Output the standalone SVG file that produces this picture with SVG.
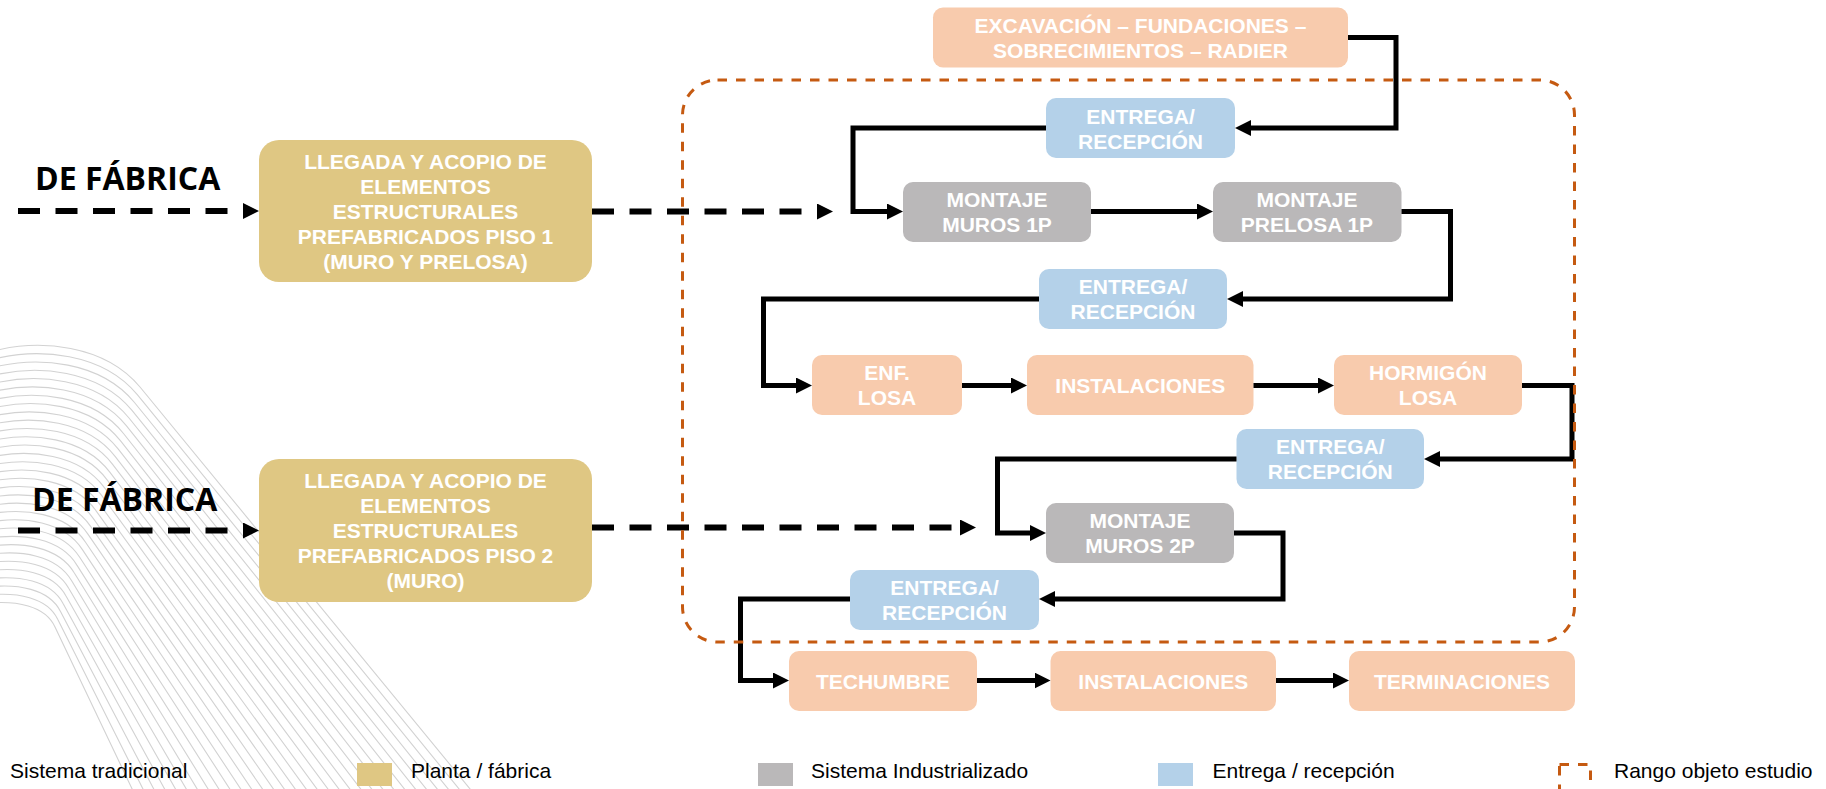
<svg xmlns="http://www.w3.org/2000/svg" width="1826" height="789" viewBox="0 0 1826 789">
  <style>
    .node text{font-family:"Liberation Sans",Arial,sans-serif;font-weight:bold;font-size:21px;fill:#fff;text-anchor:middle}
    .peach{fill:#F8CBAD}
    .gold{fill:#DFC783}
    .blue{fill:#B4D1E9}
    .gray{fill:#BAB8B9}
    .conn{fill:none;stroke:#000;stroke-width:5;stroke-linejoin:miter;marker-end:url(#arr)}
    .dash{fill:none;stroke:#000;stroke-width:6;stroke-dasharray:22 15.5;marker-end:url(#darr)}
    .range{fill:none;stroke:#C55A11;stroke-width:3;stroke-dasharray:9.5 9}
    .legend text{font-family:"Liberation Sans",Arial,sans-serif;font-size:21px;fill:#000}
    .deco path{fill:none;stroke:#d2d2d2;stroke-width:1.1}
    .title{font-family:"Open Sans","DejaVu Sans",sans-serif;font-weight:bold;font-size:32px;fill:#000}
  </style>
  <defs>
    <marker id="arr" viewBox="0 0 16 16" refX="4" refY="8" markerWidth="16" markerHeight="16" markerUnits="userSpaceOnUse" orient="auto">
      <path d="M0,0 L16,8 L0,16 z" fill="#000"/>
    </marker>
    <marker id="darr" viewBox="0 0 16 16" refX="0" refY="8" markerWidth="16" markerHeight="16" markerUnits="userSpaceOnUse" orient="auto">
      <path d="M0,0 L16,8 L0,16 z" fill="#000"/>
    </marker>
  </defs>
  <rect width="1826" height="789" fill="#fff"/>

  <!-- decorative wave of thin lines, lower left -->
  <g id="backdrop" class="deco">
    <path d="M-10,352 C40,338 105,345 140,387 L475,795"/>
    <path d="M-10,360.1 C39.2,346.5 103.1,353.4 137.3,394.7 L464,795"/>
    <path d="M-10,368.2 C38.4,355 101.1,361.8 134.5,402.5 L453.1,795"/>
    <path d="M-10,376.3 C37.6,363.5 99.2,370.2 131.8,410.2 L442.1,795"/>
    <path d="M-10,384.4 C36.8,371.9 97.3,378.5 129,418 L431.1,795"/>
    <path d="M-10,392.5 C36,380.4 95.3,386.9 126.3,425.7 L420.2,795"/>
    <path d="M-10,400.6 C35.2,388.9 93.4,395.3 123.5,433.5 L409.2,795"/>
    <path d="M-10,408.7 C34.4,397.4 91.5,403.7 120.8,441.2 L398.2,795"/>
    <path d="M-10,416.8 C33.6,405.9 89.5,412.1 118.1,448.9 L387.3,795"/>
    <path d="M-10,424.9 C32.7,414.4 87.6,420.5 115.3,456.7 L376.3,795"/>
    <path d="M-10,433 C31.9,422.8 85.7,428.9 112.6,464.4 L365.3,795"/>
    <path d="M-10,441.1 C31.1,431.3 83.7,437.3 109.8,472.2 L354.4,795"/>
    <path d="M-10,449.2 C30.3,439.8 81.8,445.6 107.1,479.9 L343.4,795"/>
    <path d="M-10,457.3 C29.5,448.3 79.8,454 104.4,487.6 L332.4,795"/>
    <path d="M-10,465.4 C28.7,456.8 77.9,462.4 101.6,495.4 L321.4,795"/>
    <path d="M-10,473.5 C27.9,465.3 76,470.8 98.9,503.1 L310.5,795"/>
    <path d="M-10,481.6 C27.1,473.7 74,479.2 96.1,510.9 L299.5,795"/>
    <path d="M-10,489.6 C26.3,482.2 72.1,487.6 93.4,518.6 L288.5,795"/>
    <path d="M-10,497.7 C25.5,490.7 70.2,496 90.6,526.4 L277.6,795"/>
    <path d="M-10,505.8 C24.7,499.2 68.2,504.4 87.9,534.1 L266.6,795"/>
    <path d="M-10,513.9 C23.9,507.7 66.3,512.7 85.2,541.8 L255.6,795"/>
    <path d="M-10,522 C23.1,516.2 64.4,521.1 82.4,549.6 L244.7,795"/>
    <path d="M-10,530.1 C22.3,524.6 62.4,529.5 79.7,557.3 L233.7,795"/>
    <path d="M-10,538.2 C21.5,533.1 60.5,537.9 76.9,565.1 L222.7,795"/>
    <path d="M-10,546.3 C20.7,541.6 58.6,546.3 74.2,572.8 L211.8,795"/>
    <path d="M-10,554.4 C19.9,550.1 56.6,554.7 71.5,580.6 L200.8,795"/>
    <path d="M-10,562.5 C19,558.6 54.7,563.1 68.7,588.3 L189.8,795"/>
    <path d="M-10,570.6 C18.2,567.1 52.8,571.4 66,596 L178.9,795"/>
    <path d="M-10,578.7 C17.4,575.6 50.8,579.8 63.2,603.8 L167.9,795"/>
    <path d="M-10,586.8 C16.6,584 48.9,588.2 60.5,611.5 L156.9,795"/>
    <path d="M-10,594.9 C15.8,592.5 47,596.6 57.7,619.3 L146,795"/>
    <path d="M-10,603 C15,601 45,605 55,627 L135,795"/>
  </g>

  <!-- side headings -->
  <g id="heading-1"><text class="title" x="35" y="190">DE FÁBRICA</text></g>
  <g id="heading-2"><text class="title" x="32" y="511">DE FÁBRICA</text></g>

  <!-- process nodes -->
  <g id="llegada-1" class="node">
    <rect class="gold" x="259" y="140" width="333" height="142" rx="20"/>
    <text x="425.5" y="168.5">LLEGADA Y ACOPIO DE</text>
    <text x="425.5" y="193.5">ELEMENTOS</text>
    <text x="425.5" y="218.5">ESTRUCTURALES</text>
    <text x="425.5" y="243.5">PREFABRICADOS PISO 1</text>
    <text x="425.5" y="268.5">(MURO Y PRELOSA)</text>
  </g>
  <g id="llegada-2" class="node">
    <rect class="gold" x="259" y="459" width="333" height="143" rx="20"/>
    <text x="425.5" y="487.5">LLEGADA Y ACOPIO DE</text>
    <text x="425.5" y="512.5">ELEMENTOS</text>
    <text x="425.5" y="537.5">ESTRUCTURALES</text>
    <text x="425.5" y="562.5">PREFABRICADOS PISO 2</text>
    <text x="425.5" y="587.5">(MURO)</text>
  </g>
  <g id="excavacion" class="node">
    <rect class="peach" x="933" y="7.5" width="415" height="60" rx="10"/>
    <text x="1140.5" y="32.5">EXCAVACIÓN – FUNDACIONES –</text>
    <text x="1140.5" y="57.5">SOBRECIMIENTOS – RADIER</text>
  </g>
  <g id="entrega-1" class="node">
    <rect class="blue" x="1046" y="98" width="189" height="60" rx="10"/>
    <text x="1140.5" y="123.5">ENTREGA/</text>
    <text x="1140.5" y="148.5">RECEPCIÓN</text>
  </g>
  <g id="montaje-muros-1p" class="node">
    <rect class="gray" x="903" y="182" width="188" height="60" rx="10"/>
    <text x="997" y="207">MONTAJE</text>
    <text x="997" y="232">MUROS 1P</text>
  </g>
  <g id="montaje-prelosa-1p" class="node">
    <rect class="gray" x="1213" y="182" width="188.5" height="60" rx="10"/>
    <text x="1307" y="207">MONTAJE</text>
    <text x="1307" y="232">PRELOSA 1P</text>
  </g>
  <g id="entrega-2" class="node">
    <rect class="blue" x="1039" y="269" width="188" height="60" rx="10"/>
    <text x="1133" y="294">ENTREGA/</text>
    <text x="1133" y="319">RECEPCIÓN</text>
  </g>
  <g id="enf-losa" class="node">
    <rect class="peach" x="812" y="355" width="150" height="60" rx="10"/>
    <text x="887" y="380">ENF.</text>
    <text x="887" y="405">LOSA</text>
  </g>
  <g id="instalaciones-1" class="node">
    <rect class="peach" x="1027" y="355" width="226.5" height="60" rx="10"/>
    <text x="1140.3" y="393">INSTALACIONES</text>
  </g>
  <g id="hormigon-losa" class="node">
    <rect class="peach" x="1334" y="355" width="188" height="60" rx="10"/>
    <text x="1428" y="380">HORMIGÓN</text>
    <text x="1428" y="405">LOSA</text>
  </g>
  <g id="entrega-3" class="node">
    <rect class="blue" x="1236.5" y="429" width="187.5" height="60" rx="10"/>
    <text x="1330.3" y="454">ENTREGA/</text>
    <text x="1330.3" y="479">RECEPCIÓN</text>
  </g>
  <g id="montaje-muros-2p" class="node">
    <rect class="gray" x="1046" y="503" width="188" height="60" rx="10"/>
    <text x="1140" y="528">MONTAJE</text>
    <text x="1140" y="553">MUROS 2P</text>
  </g>
  <g id="entrega-4" class="node">
    <rect class="blue" x="850" y="570" width="189" height="60" rx="10"/>
    <text x="944.5" y="595">ENTREGA/</text>
    <text x="944.5" y="620">RECEPCIÓN</text>
  </g>
  <g id="techumbre" class="node">
    <rect class="peach" x="789" y="651" width="188" height="60" rx="10"/>
    <text x="883" y="689">TECHUMBRE</text>
  </g>
  <g id="instalaciones-2" class="node">
    <rect class="peach" x="1050.5" y="651" width="225.5" height="60" rx="10"/>
    <text x="1163.3" y="689">INSTALACIONES</text>
  </g>
  <g id="terminaciones" class="node">
    <rect class="peach" x="1349" y="651" width="226" height="60" rx="10"/>
    <text x="1462" y="689">TERMINACIONES</text>
  </g>

  <!-- connectors -->
  <g id="connectors">
    <path class="dash" d="M18,211 H243"/>
    <path class="dash" d="M592,211.5 H817"/>
    <path class="dash" d="M18,530.5 H243"/>
    <path class="dash" d="M592,527.5 H960"/>
    <path class="conn" d="M1348,37.5 H1396 V128 H1247"/>
    <path class="conn" d="M1046,128 H853 V211.5 H891"/>
    <path class="conn" d="M1091,211.5 H1201"/>
    <path class="conn" d="M1401.5,211.5 H1450.5 V299 H1239"/>
    <path class="conn" d="M1039,299 H763.5 V385.5 H800"/>
    <path class="conn" d="M962,385.5 H1015"/>
    <path class="conn" d="M1253.5,385.5 H1322"/>
    <path class="conn" d="M1522,385.5 H1572 V459 H1436"/>
    <path class="conn" d="M1236.5,459 H997.5 V533 H1034"/>
    <path class="conn" d="M1234,533 H1283 V599 H1051"/>
    <path class="conn" d="M850,599 H740.5 V680.5 H777"/>
    <path class="conn" d="M977,680.5 H1038.5"/>
    <path class="conn" d="M1276,680.5 H1337"/>
  </g>

  <!-- study range boundary -->
  <g id="study-range">
    <rect class="range" x="682.5" y="80" width="892" height="562" rx="35"/>
  </g>

  <!-- legend -->
  <g id="legend" class="legend">
    <text x="10" y="778">Sistema tradicional</text>
    <rect class="gold" x="357" y="763" width="35" height="23"/>
    <text x="411" y="778">Planta / fábrica</text>
    <rect class="gray" x="758" y="763" width="35" height="23"/>
    <text x="811" y="778">Sistema Industrializado</text>
    <rect class="blue" x="1158" y="763" width="35" height="23"/>
    <text x="1212.5" y="778">Entrega / recepción</text>
    <rect class="range" x="1559.5" y="764.5" width="31" height="30"/>
    <text x="1614" y="778">Rango objeto estudio</text>
  </g>
</svg>
